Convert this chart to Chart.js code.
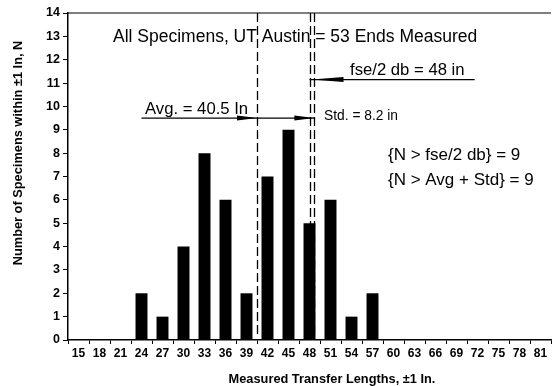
<!DOCTYPE html>
<html>
<head>
<meta charset="utf-8">
<script src="https://cdn.jsdelivr.net/npm/chart.js@4.4.0/dist/chart.umd.min.js"></script>
<style>
  html, body { margin:0; padding:0; background:#fff; }
  #wrap { width:553px; height:386px; position:relative; }
</style>
</head>
<body>
<div id="wrap"><canvas id="c" width="553" height="386"></canvas></div>
<script>
// transfer length bins (in), +-1 in
const lengths = [15,18,21,24,27,30,33,36,39,42,45,48,51,54,57,60,63,66,69,72,75,78,81];
const counts  = [0,0,0,2,1,4,8,6,2,7,9,5,6,1,2,0,0,0,0,0,0,0,0];
const yTicks = [0,1,2,3,4,5,6,7,8,9,10,11,12,13,14];

// reference values
const avgLen = 40.5;
const stdLen = 8.2;
const fseLen = 48;
const avgLineStart = 24;   // left end of the avg/std arrow line
const fseLineEnd = 71.6;   // right end of the fse arrow line
const avgLineN = 9.5;
const fseLineN = 11.15;

const FONT = '"Liberation Sans", Arial, Helvetica, sans-serif';

// value (in) -> fractional category index
function idx(v) { return (v - lengths[0]) / (lengths[1] - lengths[0]); }

function arrowHead(ctx, x, y, dir, len, half) {
  ctx.beginPath();
  ctx.moveTo(x, y);
  ctx.lineTo(x - dir * len, y - half);
  ctx.lineTo(x - dir * len, y + half);
  ctx.closePath();
  ctx.fill();
}

const annotations = {
  id: 'annotations',
  afterDatasetsDraw(chart) {
    const ctx = chart.ctx, xs = chart.scales.x, ys = chart.scales.y, a = chart.chartArea;
    const px = v => xs.getPixelForValue(idx(v));
    const py = v => ys.getPixelForValue(v);
    ctx.save();
    ctx.strokeStyle = '#000';
    ctx.fillStyle = '#000';

    // top frame line
    ctx.lineWidth = 1.2;
    ctx.beginPath(); ctx.moveTo(a.left, a.top); ctx.lineTo(a.right, a.top); ctx.stroke();

    // dashed verticals
    ctx.lineWidth = 1.3;
    ctx.setLineDash([9, 4]);
    [avgLen, fseLen, avgLen + stdLen].forEach(v => {
      const x = Math.round(px(v)) + 0.5;
      ctx.beginPath(); ctx.moveTo(x, a.top); ctx.lineTo(x, a.bottom - 2); ctx.stroke();
    });
    ctx.setLineDash([]);

    // avg / std arrow line
    ctx.lineWidth = 1.2;
    const ya = py(avgLineN);
    ctx.beginPath(); ctx.moveTo(px(avgLineStart), ya); ctx.lineTo(px(avgLen + stdLen), ya); ctx.stroke();
    arrowHead(ctx, px(avgLen), ya, 1, 20, 2.5);
    arrowHead(ctx, px(avgLen + stdLen), ya, 1, 20, 2.5);

    // fse arrow line
    const yf = py(fseLineN);
    ctx.beginPath(); ctx.moveTo(px(fseLen), yf); ctx.lineTo(px(fseLineEnd), yf); ctx.stroke();
    arrowHead(ctx, px(fseLen) + 2, yf, -1, 32, 2.5);

    // texts
    ctx.textBaseline = 'middle';
    ctx.textAlign = 'left';
    ctx.font = '17.5px ' + FONT;
    ctx.fillText('All Specimens, UT Austin = 53 Ends Measured', 113, 37);
    ctx.font = '16.7px ' + FONT;
    ctx.fillText('fse/2 db = 48 in', 350, 70);
    ctx.fillText('Avg. = 40.5 In', 145, 109);
    ctx.font = '13.8px ' + FONT;
    ctx.fillText('Std. = 8.2 in', 324, 116);
    ctx.font = '17px ' + FONT;
    ctx.fillText('{N > fse/2 db} = 9', 388, 155);
    ctx.fillText('{N > Avg + Std} = 9', 388, 180);

    // axis titles
    ctx.font = 'bold 12.8px ' + FONT;
    ctx.textAlign = 'center';
    ctx.fillText('Measured Transfer Lengths, \u00b11 In.', 332, 379);
    ctx.translate(18, 153);
    ctx.rotate(-Math.PI / 2);
    ctx.fillText('Number of Specimens within \u00b11 In, N', 0, 0);
    ctx.restore();
  }
};

new Chart(document.getElementById('c').getContext('2d'), {
  type: 'bar',
  data: {
    labels: lengths.map(String),
    datasets: [{
      data: counts,
      backgroundColor: '#000',
      borderWidth: 0,
      categoryPercentage: 1,
      barPercentage: 0.57
    }]
  },
  options: {
    responsive: false,
    animation: false,
    layout: { padding: { top: 13, right: 2, left: 0, bottom: 0 } },
    plugins: { legend: { display: false }, tooltip: { enabled: false } },
    scales: {
      x: {
        afterFit: s => { s.height = 46; },
        grid: { drawOnChartArea: false, drawTicks: true, tickLength: 4, color: '#000' },
        border: { color: '#000', width: 1.5 },
        ticks: { color: '#000', font: { family: FONT, size: 12, weight: 'bold' }, maxRotation: 0, autoSkip: false, padding: 2 }
      },
      y: {
        min: 0, max: 14,
        afterFit: s => { s.width = 68; },
        afterBuildTicks: s => { s.ticks = yTicks.map(v => ({ value: v })); },
        grid: { drawOnChartArea: false, drawTicks: true, tickLength: 5, color: '#000' },
        border: { color: '#000', width: 1.5 },
        ticks: { color: '#000', font: { family: FONT, size: 12.5, weight: 'bold' }, padding: 3 }
      }
    }
  },
  plugins: [annotations]
});
</script>
</body>
</html>
